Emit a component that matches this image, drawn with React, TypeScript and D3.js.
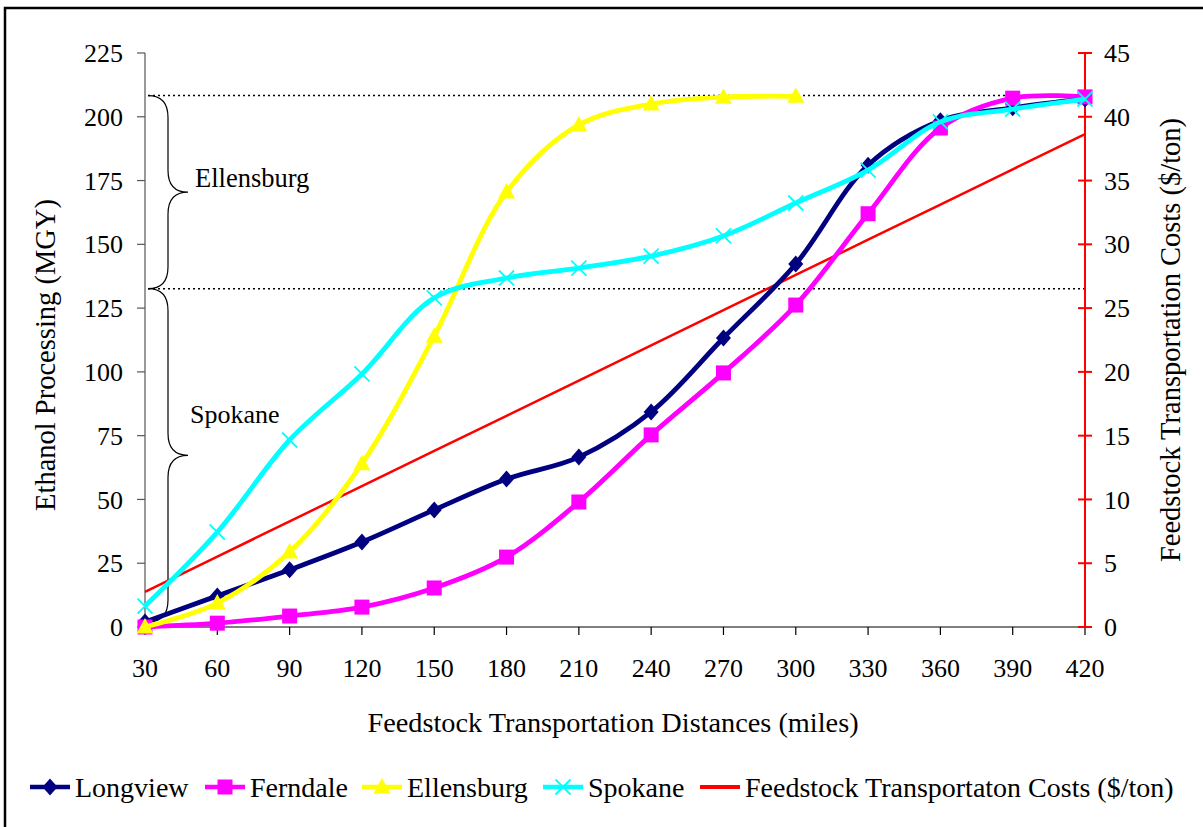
import * as d3 from "d3";
import { useEffect } from "react";

const distances = [30, 60, 90, 120, 150, 180, 210, 240, 270, 300, 330, 360, 390, 420];
const longview = [2, 12.2, 22.4, 33.3, 45.9, 58, 66.6, 84.3, 113.3, 142.3, 181, 198.4, 203.5, 207];
const ferndale = [0, 1.5, 4.3, 7.8, 15.3, 27.4, 49, 75.3, 99.6, 126.2, 162, 195.6, 207.3, 207.8];
const ellensburg = [0, 9.4, 29.4, 64, 114, 170.5, 196.8, 205, 207.7, 208];
const spokane = [8.2, 37.2, 73.3, 99.2, 129, 136.8, 140.7, 145.4, 153.3, 166.2, 179.1, 198, 203, 206.9];
const costs = [2.76, 5.52, 8.28, 11.04, 13.8, 16.56, 19.32, 22.08, 24.84, 27.6, 30.36, 33.12, 35.88, 38.64];
const leftTicks = [0, 25, 50, 75, 100, 125, 150, 175, 200, 225];
const rightTicks = [0, 5, 10, 15, 20, 25, 30, 35, 40, 45];
const levels = [208.3, 132.6]; // dotted reference lines

const W = 1203;
const H = 827;
const font = "Liberation Serif";

type Series = { name: string; values: number[]; color: string; marker: string };
const series: Series[] = [
  { name: "Longview", values: longview, color: "#000080", marker: "diamond" },
  { name: "Ferndale", values: ferndale, color: "#ff00ff", marker: "square" },
  { name: "Ellensburg", values: ellensburg, color: "#ffff00", marker: "triangle" },
  { name: "Spokane", values: spokane, color: "#00ffff", marker: "x" },
];

const x = d3.scalePoint<number>().domain(distances).range([145, 1085]);
const yL = d3.scaleLinear().domain([0, 225]).range([627, 53]);
const yR = d3.scaleLinear().domain([0, 45]).range([627, 53]);

function Marker({ type, cx, cy, color }: { type: string; cx: number; cy: number; color: string }) {
  if (type === "diamond")
    return <path d={`M${cx},${cy - 8.5}L${cx + 7.5},${cy}L${cx},${cy + 8.5}L${cx - 7.5},${cy}Z`} fill={color} />;
  if (type === "square") return <rect x={cx - 7.5} y={cy - 7.5} width={15} height={15} fill={color} />;
  if (type === "triangle")
    return <path d={`M${cx},${cy - 9}L${cx + 8.5},${cy + 6.5}L${cx - 8.5},${cy + 6.5}Z`} fill={color} />;
  return (
    <path
      d={`M${cx - 7.5},${cy - 7.5}L${cx + 7.5},${cy + 7.5}M${cx + 7.5},${cy - 7.5}L${cx - 7.5},${cy + 7.5}`}
      stroke={color}
      strokeWidth={1.8}
    />
  );
}

function brace(xEnd: number, xMid: number, xTip: number, y1: number, y2: number, r: number) {
  const m = (y1 + y2) / 2;
  return `M${xEnd},${y1} Q${xMid},${y1} ${xMid},${y1 + r} L${xMid},${m - r} Q${xMid},${m} ${xTip},${m} Q${xMid},${m} ${xMid},${m + r} L${xMid},${y2 - r} Q${xMid},${y2} ${xEnd},${y2}`;
}

export default function App() {
  useEffect(() => {
    document.body.style.margin = "0";
  }, []);

  const line = d3
    .line<number>()
    .x((_, i) => x(distances[i]) as number)
    .y((d) => yL(d))
    .curve(d3.curveCatmullRom.alpha(0.5));
  const costLine = d3
    .line<number>()
    .x((_, i) => x(distances[i]) as number)
    .y((d) => yR(d));

  const legendItems = [
    { name: "Longview", x0: 30, color: "#000080", marker: "diamond", w: 3 },
    { name: "Ferndale", x0: 205, color: "#ff00ff", marker: "square", w: 3 },
    { name: "Ellensburg", x0: 362, color: "#ffff00", marker: "triangle", w: 3 },
    { name: "Spokane", x0: 543, color: "#00ffff", marker: "x", w: 3 },
    { name: "Feedstock Transportaton Costs ($/ton)", x0: 700, color: "#ff0000", marker: "", w: 2.5 },
  ];

  return (
    <svg width={W} height={H} style={{ display: "block" }}>
      <rect x={0} y={0} width={W} height={H} fill="#fff" />
      <rect x={5} y={8} width={W} height={H} fill="none" stroke="#000" strokeWidth={2.5} />

      {/* dotted level lines */}
      {levels.map((v) => (
        <line key={v} x1={148} x2={1085} y1={yL(v)} y2={yL(v)} stroke="#000" strokeWidth={1.5} strokeDasharray="2,3" />
      ))}

      <g fontFamily={font} fontSize={26} fill="#000">
        {/* braces */}
        <path d={brace(148, 168, 188, yL(levels[0]), yL(levels[1]), 22)} fill="none" stroke="#000" strokeWidth={1.2} />
        <path d={brace(148, 168, 188, yL(levels[1]), yL(2), 22)} fill="none" stroke="#000" strokeWidth={1.2} />
        <text x={195} y={187} fontSize={26.5}>Ellensburg</text>
        <text x={190} y={423}>Spokane</text>

        {/* left axis */}
        <line x1={145} x2={145} y1={yL(225)} y2={yL(0)} stroke="#555" strokeWidth={1.2} />
        {leftTicks.map((t) => (
          <g key={t}>
            <line x1={137} x2={145} y1={yL(t)} y2={yL(t)} stroke="#555" strokeWidth={1.2} />
            <text x={123} y={yL(t)} dy="0.35em" textAnchor="end">
              {t}
            </text>
          </g>
        ))}
        <text
          transform={`translate(55,${(yL(0) + yL(225)) / 2 + 15}) rotate(-90)`}
          textAnchor="middle"
          fontSize={28.5}
        >
          Ethanol Processing (MGY)
        </text>

        {/* x axis */}
        <line x1={145} x2={1085} y1={yL(0)} y2={yL(0)} stroke="#000" strokeWidth={1.2} />
        {distances.map((d) => (
          <g key={d}>
            <line x1={x(d)} x2={x(d)} y1={627} y2={635} stroke="#000" strokeWidth={1.2} />
            <text x={x(d)} y={668} dy="0.35em" textAnchor="middle">
              {d}
            </text>
          </g>
        ))}
        <text x={613} y={732} textAnchor="middle" fontSize={28.3}>
          Feedstock Transportation Distances (miles)
        </text>

        {/* right axis */}
        <line x1={1085} x2={1085} y1={yR(45)} y2={yR(0)} stroke="#ff0000" strokeWidth={2} />
        {rightTicks.map((t) => (
          <g key={t}>
            <line x1={1078} x2={1092} y1={yR(t)} y2={yR(t)} stroke="#ff0000" strokeWidth={2} />
            <text x={1104} y={yR(t)} dy="0.35em">
              {t}
            </text>
          </g>
        ))}
        <text
          transform={`translate(1180,${(yR(0) + yR(45)) / 2}) rotate(-90)`}
          textAnchor="middle"
          fontSize={28.5}
        >
          Feedstock Transportation Costs ($/ton)
        </text>

        {/* series */}
        <path d={costLine(costs) as string} fill="none" stroke="#ff0000" strokeWidth={2.5} />
        {series.map((s) => (
          <g key={s.name}>
            <path d={line(s.values) as string} fill="none" stroke={s.color} strokeWidth={4.8} />
            {s.values.map((v, i) => (
              <Marker key={i} type={s.marker} cx={x(distances[i]) as number} cy={yL(v)} color={s.color} />
            ))}
          </g>
        ))}

        {/* legend */}
        {legendItems.map((it) => (
          <g key={it.name}>
            <line x1={it.x0} x2={it.x0 + 40} y1={787} y2={787} stroke={it.color} strokeWidth={it.w + 1.5} />
            {it.marker && <Marker type={it.marker} cx={it.x0 + 20} cy={787} color={it.color} />}
            <text x={it.x0 + 45} y={787} dy="0.35em" fontSize={28}>
              {it.name}
            </text>
          </g>
        ))}
      </g>
    </svg>
  );
}
